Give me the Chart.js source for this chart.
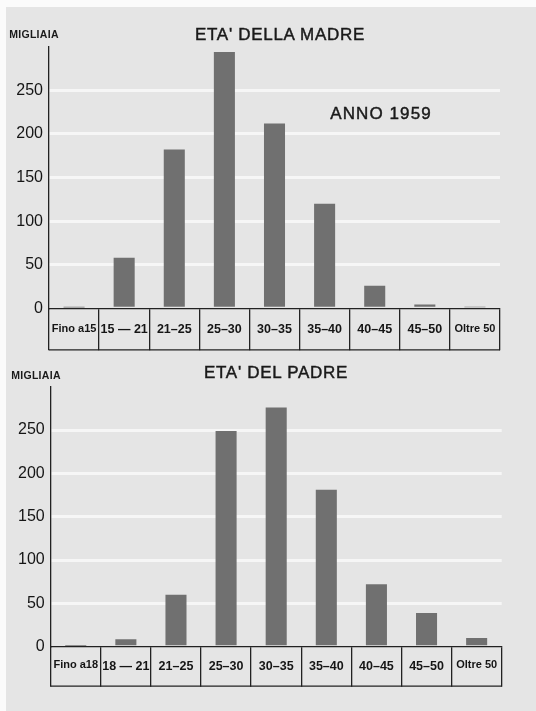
<!DOCTYPE html>
<html><head><meta charset="utf-8">
<script src="https://cdn.jsdelivr.net/npm/chart.js@4"></script>
<style>
html,body{margin:0;padding:0;}
body{width:536px;height:711px;background:#fbfbfb;position:relative;overflow:hidden;font-family:"Liberation Sans",Arial,sans-serif;color:#1a1a1a;}
#paper{position:absolute;left:6px;top:7px;right:0;bottom:0;background:#e5e5e5;}
canvas{position:absolute;left:0;}
.t{position:absolute;white-space:nowrap;line-height:1;transform:translate(-50%,-50%);color:#1a1a1a;}
.ttl{font-size:17px;letter-spacing:0.7px;-webkit-text-stroke:0.45px #1a1a1a;}
.mig{font-size:10.5px;font-weight:bold;letter-spacing:0.3px;}
</style></head><body>
<div id="paper"></div>
<canvas id="c1" width="536" height="355" style="top:0"></canvas>
<canvas id="c2" width="536" height="356" style="top:355px"></canvas>
<div class="t mig" style="left:34px;top:34px">MIGLIAIA</div>
<div class="t ttl" style="left:280px;top:34px">ETA' DELLA MADRE</div>
<div class="t ttl" style="left:381px;top:113px;letter-spacing:1.1px">ANNO 1959</div>
<div class="t mig" style="left:36px;top:375px">MIGLIAIA</div>
<div class="t ttl" style="left:276px;top:372px">ETA' DEL PADRE</div>
<script>
const madreCategories = ['Fino a15', '15 \u2014 21', '21\u201325', '25\u201330', '30\u201335', '35\u201340', '40\u201345', '45\u201350', 'Oltre 50'];
const madreValues = [1, 58, 182, 294, 212, 120, 26, 4.5, 1.2];
const padreCategories = ['Fino a18', '18 \u2014 21', '21\u201325', '25\u201330', '30\u201335', '35\u201340', '40\u201345', '45\u201350', 'Oltre 50'];
const padreValues = [0.8, 8.5, 60, 249, 276, 181, 72, 39, 10];
const yTicks = [0, 50, 100, 150, 200, 250];
const yMax = 300;

const INK = '#222222';
const boxLine = {
  id: 'boxLine',
  afterDraw(chart) {
    const x = chart.scales.x, c = chart.ctx;
    c.save();
    c.strokeStyle = INK; c.lineWidth = 1.3;
    c.beginPath(); c.moveTo(x.left, x.bottom - 0.5); c.lineTo(x.right, x.bottom - 0.5); c.stroke();
    c.restore();
  }
};

function makeChart(id, labels, values, lay) {
  return new Chart(document.getElementById(id), {
    type: 'bar',
    data: { labels: labels, datasets: [{ data: values, backgroundColor: '#707070', borderWidth: 0, barPercentage: 0.42, categoryPercentage: 1 }] },
    plugins: [boxLine],
    options: {
      responsive: false, animation: false,
      layout: { padding: { left: 0, right: lay.right, top: lay.top, bottom: lay.bottom } },
      plugins: { legend: { display: false }, tooltip: { enabled: false } },
      scales: {
        x: {
          offset: true,
          grid: { offset: true, drawOnChartArea: false, drawTicks: true, tickLength: lay.box, color: INK, lineWidth: 1.3 },
          border: { display: true, color: INK, width: 1.3 },
          ticks: {
            autoSkip: false, maxRotation: 0, minRotation: 0, padding: -28, color: '#151515',
            font: c => ({ family: 'Liberation Sans', size: (c.index === 0 || c.index === labels.length - 1) ? 11 : 12.5, weight: 'bold' })
          },
          afterFit: s => { s.height = lay.box; }
        },
        y: {
          min: 0, max: yMax,
          afterBuildTicks: s => { s.ticks = yTicks.concat([yMax]).map(v => ({ value: v })); },
          afterFit: s => { s.width = lay.left; },
          grid: { drawTicks: false, lineWidth: 3, color: c => (c.tick && c.tick.value > 0 && c.tick.value < yMax) ? '#f6f6f6' : 'rgba(0,0,0,0)' },
          border: { display: true, color: INK, width: 1.3 },
          ticks: { padding: 6, color: '#151515', font: { family: 'Liberation Sans', size: 16 }, callback: v => (yTicks.includes(v) ? String(v) : '') }
        }
      }
    }
  });
}

makeChart('c1', madreCategories, madreValues, { left: 49, right: 36, top: 46.7, bottom: 4.7, box: 42 });
makeChart('c2', padreCategories, padreValues, { left: 50.7, right: 34.3, top: 31.7, bottom: 24.3, box: 40 });
</script>
</body></html>
